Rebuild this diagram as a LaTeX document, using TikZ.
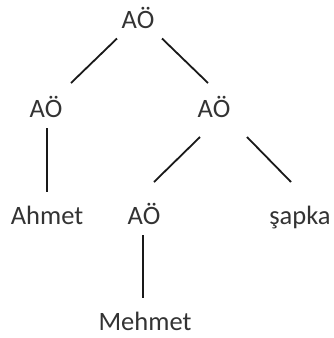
\documentclass[tikz,border=0pt]{standalone}
\usepackage{fontspec}
\setmainfont{Carlito}
\usetikzlibrary{calc}
\begin{document}
\begin{tikzpicture}[x=1pt,y=-1pt,
  word/.style={anchor=base,inner sep=0pt,font=\fontsize{26.5}{30}\selectfont,text=black!80},
  branch/.style={line width=1.8pt,black!90}]
\useasboundingbox (0,0) rectangle (333,338);
% tree nodes, placed by their baselines
\node[word] (root) at (138,28.5) {AÖ};
\node[word] (l)    at (46,117)   {AÖ};
\node[word] (r)    at (214,117)  {AÖ};
\node[word] (ahmet) at (47,224)  {Ahmet};
\node[word] (a2)   at (144,224)  {AÖ};
\node[word] (sapka) at (300,224) {şapka};
\node[word] (mehmet) at (145,330) {Mehmet};
% branches
\draw[branch] ($(root.base)+(-21,10)$) -- ($(l.base)+(25,-34)$);
\draw[branch] ($(root.base)+(24,10)$) -- ($(r.base)+(-6,-34)$);
\draw[branch] ($(l.base)+(1,11)$) -- ($(ahmet.base)+(0,-32)$);
\draw[branch] ($(r.base)+(-14,20)$) -- ($(a2.base)+(10,-42)$);
\draw[branch] ($(r.base)+(33,20)$) -- ($(sapka.base)+(-9,-42)$);
\draw[branch] ($(a2.base)+(-1,11)$) -- ($(mehmet.base)+(-2,-32)$);
\end{tikzpicture}
\end{document}
